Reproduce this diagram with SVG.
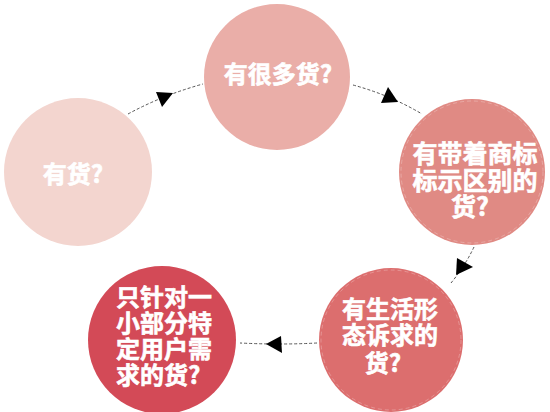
<svg xmlns="http://www.w3.org/2000/svg" width="550" height="412" viewBox="0 0 550 412">
<style>
.t{font-family:"Noto Sans CJK SC","Noto Sans",sans-serif;font-weight:bold;fill:#fff;stroke:#fff;stroke-width:0.6;font-size:24px}
.c{text-anchor:middle}
.ln{fill:none;stroke:#555;stroke-width:1;stroke-dasharray:3 2}
.ah{fill:#000}
.ring{fill:none;stroke:#fff;stroke-opacity:0.25;stroke-width:1;stroke-dasharray:4 3}
</style>
<rect width="550" height="412" fill="#fff"/>
<g id="connectors">
<path class="ln" d="M128,114 Q163,95 203,84"/>
<path class="ah" d="M173,93 L156,92 L162,107 Z"/>
<path class="ln" d="M353,85 Q390,95 422,114"/>
<path class="ah" d="M398,102 L388,87 L381,103 Z"/>
<path class="ln" d="M474,247 Q465,266 451,283"/>
<path class="ah" d="M456,275 L457,258 L473,267 Z"/>
<path class="ln" d="M317,343 Q280,345 240,343"/>
<path class="ah" d="M266,344 L281,336 L282,353 Z"/>
</g>
<g id="n1">
<circle cx="78" cy="172" r="74" fill="#f3d5cf"/>
<text class="t c" x="73" y="183">有货?</text>
</g>
<g id="n2">
<circle cx="277" cy="77" r="73" fill="#eaaea8"/>
<text class="t c" x="278" y="83">有很多货?</text>
</g>
<g id="n3">
<circle cx="472" cy="172" r="73" fill="#e08a84"/>
<circle class="ring" cx="472" cy="172" r="71"/>
<text class="t c" style="font-size:25px" x="475" y="163">有带着商标</text>
<text class="t c" style="font-size:25px" x="475" y="190">标示区别的</text>
<text class="t c" style="font-size:25px" x="470" y="216">货?</text>
</g>
<g id="n4">
<circle cx="391" cy="340" r="72" fill="#dc6e6e"/>
<circle class="ring" cx="391" cy="340" r="70"/>
<text class="t c" x="390" y="318">有生活形</text>
<text class="t c" x="390" y="344">态诉求的</text>
<text class="t c" x="383" y="372">货?</text>
</g>
<g id="n5">
<circle cx="162" cy="340" r="74" fill="#d34a57"/>
<text class="t" x="116" y="306">只针对一</text>
<text class="t" x="116" y="332">小部分特</text>
<text class="t" x="116" y="358">定用户需</text>
<text class="t" x="116" y="384">求的货?</text>
</g>
</svg>
